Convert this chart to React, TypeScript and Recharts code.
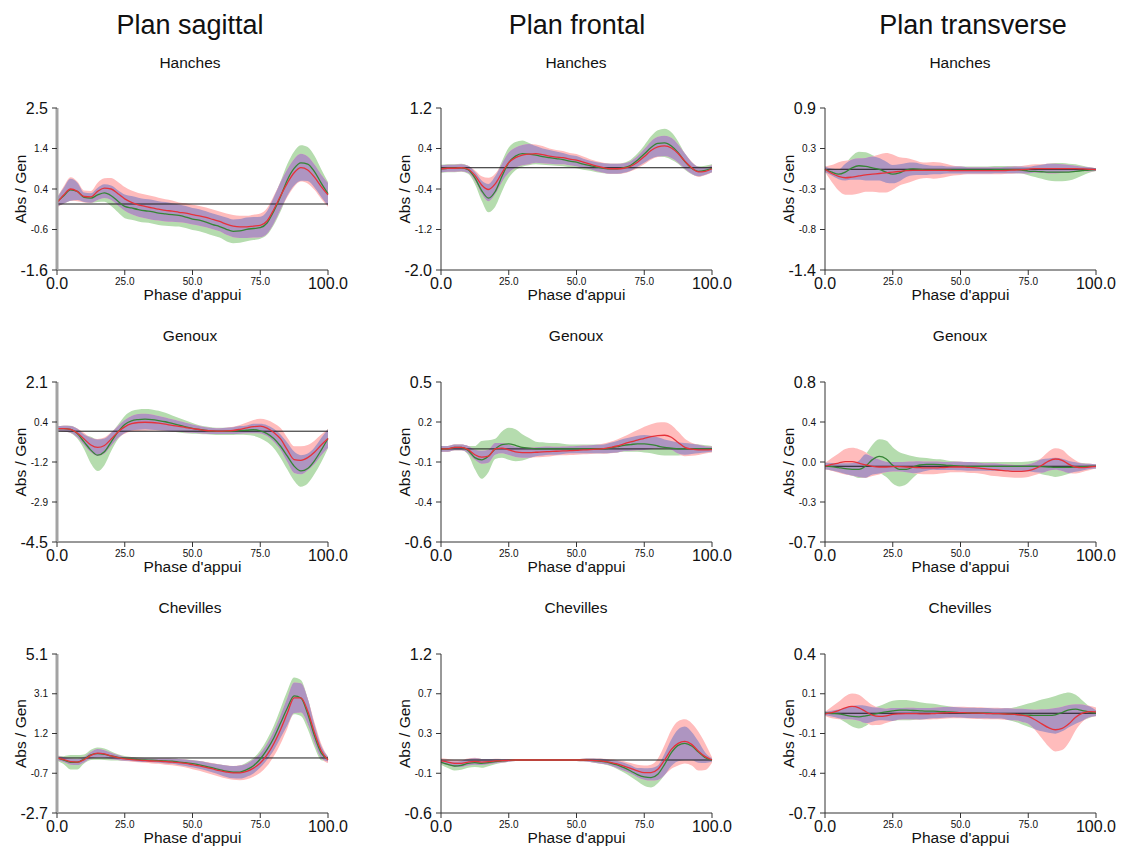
import React from "react";
import { ComposedChart, Area, Line, XAxis, YAxis, ReferenceLine } from "recharts";

// x positions (% of stance phase) shared by every panel
const PHASE = [
  0, 2.5, 5, 7.5, 10, 12.5, 15, 17.5, 20, 22.5,
  25, 27.5, 30, 32.5, 35, 37.5, 40, 42.5, 45, 47.5,
  50, 52.5, 55, 57.5, 60, 62.5, 65, 67.5, 70, 72.5,
  75, 77.5, 80, 82.5, 85, 87.5, 90, 92.5, 95, 97.5,
  100,
];
const X_TICKS = [0, 25, 50, 75, 100];
const X_TICK_LABELS = ["0.0", "25.0", "50.0", "75.0", "100.0"];

const PLANES = ["Plan sagittal", "Plan frontal", "Plan transverse"];
const JOINTS = ["Hanches", "Genoux", "Chevilles"];

// ---- Hanches ----
const hipSagG = [
  0.13, 0.28, 0.43, 0.39, 0.24, 0.22, 0.3, 0.35, 0.28, 0.14,
  0.01, -0.03, -0.07, -0.1, -0.12, -0.16, -0.18, -0.2, -0.22, -0.26,
  -0.31, -0.34, -0.39, -0.45, -0.5, -0.57, -0.62, -0.61, -0.57, -0.55,
  -0.53, -0.41, -0.11, 0.26, 0.68, 0.97, 1.11, 1.08, 0.89, 0.6,
  0.33,
];
const hipSagGSd = [
  0.12, 0.2, 0.28, 0.22, 0.12, 0.12, 0.18, 0.22, 0.26, 0.28,
  0.3, 0.3, 0.3, 0.3, 0.3, 0.3, 0.3, 0.29, 0.28, 0.28,
  0.28, 0.28, 0.28, 0.28, 0.28, 0.3, 0.3, 0.3, 0.3, 0.29,
  0.28, 0.3, 0.35, 0.38, 0.4, 0.43, 0.45, 0.43, 0.4, 0.35,
  0.3,
];
const hipSagR = [
  0.1, 0.3, 0.45, 0.39, 0.26, 0.25, 0.39, 0.47, 0.45, 0.33,
  0.2, 0.11, 0.05, 0.01, -0.03, -0.06, -0.09, -0.11, -0.14, -0.16,
  -0.2, -0.23, -0.27, -0.32, -0.37, -0.44, -0.49, -0.51, -0.51, -0.49,
  -0.47, -0.36, -0.07, 0.28, 0.6, 0.86, 0.99, 0.93, 0.75, 0.51,
  0.3,
];
const hipSagRSd = [
  0.12, 0.22, 0.3, 0.25, 0.15, 0.15, 0.22, 0.25, 0.28, 0.3,
  0.3, 0.3, 0.3, 0.3, 0.3, 0.29, 0.28, 0.27, 0.25, 0.25,
  0.25, 0.25, 0.25, 0.25, 0.25, 0.27, 0.28, 0.28, 0.28, 0.29,
  0.3, 0.32, 0.35, 0.35, 0.35, 0.35, 0.35, 0.34, 0.32, 0.31,
  0.3,
];

const hipFrontG = [
  0, 0.01, 0.01, 0.02, -0.02, -0.18, -0.43, -0.58, -0.45, -0.15,
  0.12, 0.25, 0.3, 0.29, 0.27, 0.24, 0.22, 0.2, 0.18, 0.15,
  0.13, 0.09, 0.06, 0.03, 0.01, 0, 0, 0.02, 0.07, 0.17,
  0.29, 0.42, 0.5, 0.51, 0.45, 0.32, 0.14, 0.01, -0.05, -0.03,
  0.01,
];
const hipFrontGSd = [
  0.08, 0.08, 0.08, 0.08, 0.08, 0.12, 0.2, 0.28, 0.3, 0.3,
  0.3, 0.28, 0.26, 0.22, 0.18, 0.16, 0.15, 0.14, 0.13, 0.12,
  0.12, 0.11, 0.1, 0.1, 0.1, 0.1, 0.1, 0.1, 0.11, 0.13,
  0.17, 0.22, 0.26, 0.28, 0.27, 0.22, 0.16, 0.12, 0.1, 0.09,
  0.08,
];
const hipFrontR = [
  0, 0.01, 0.01, 0.02, -0.01, -0.13, -0.32, -0.41, -0.3, -0.08,
  0.12, 0.22, 0.27, 0.29, 0.3, 0.28, 0.25, 0.23, 0.22, 0.19,
  0.17, 0.13, 0.09, 0.05, 0.02, 0, 0, 0.01, 0.05, 0.13,
  0.24, 0.36, 0.43, 0.45, 0.41, 0.3, 0.15, 0.02, -0.06, -0.05,
  0,
];
const hipFrontRSd = [
  0.07, 0.07, 0.07, 0.07, 0.07, 0.1, 0.17, 0.23, 0.2, 0.18,
  0.2, 0.2, 0.2, 0.2, 0.18, 0.17, 0.15, 0.14, 0.13, 0.12,
  0.12, 0.11, 0.1, 0.1, 0.1, 0.1, 0.1, 0.1, 0.1, 0.12,
  0.15, 0.18, 0.2, 0.2, 0.2, 0.18, 0.15, 0.12, 0.1, 0.08,
  0.07,
];

const hipTransG = [
  0.03, -0.01, -0.04, -0.01, 0.05, 0.08, 0.07, 0.05, 0.03, -0.01,
  -0.04, -0.02, 0.02, 0.035, 0.03, 0.02, 0.02, 0.02, 0.02, 0.02,
  0.02, 0.02, 0.02, 0.02, 0.02, 0.025, 0.025, 0.025, 0.025, 0.02,
  0.005, 0, -0.005, -0.01, -0.01, -0.01, -0.01, 0, 0.01, 0.02,
  0.025,
];
const hipTransGSd = [
  0.04, 0.05, 0.07, 0.12, 0.17, 0.2, 0.2, 0.18, 0.16, 0.15,
  0.13, 0.12, 0.1, 0.09, 0.08, 0.07, 0.06, 0.06, 0.05, 0.05,
  0.05, 0.05, 0.05, 0.05, 0.05, 0.05, 0.05, 0.05, 0.05, 0.05,
  0.06, 0.08, 0.1, 0.12, 0.13, 0.13, 0.12, 0.1, 0.07, 0.04,
  0.02,
];
const hipTransR = [
  0.03, -0.03, -0.07, -0.09, -0.08, -0.065, -0.05, -0.04, -0.03, -0.02,
  -0.01, 0, 0.01, 0.015, 0.015, 0.015, 0.015, 0.015, 0.015, 0.01,
  0.01, 0.01, 0.01, 0.01, 0.01, 0.01, 0.01, 0.015, 0.02, 0.025,
  0.03, 0.04, 0.04, 0.04, 0.04, 0.04, 0.04, 0.04, 0.035, 0.03,
  0.025,
];
const hipTransRSd = [
  0.04, 0.12, 0.2, 0.24, 0.25, 0.25, 0.24, 0.25, 0.27, 0.28,
  0.25, 0.2, 0.18, 0.15, 0.12, 0.11, 0.12, 0.11, 0.09, 0.07,
  0.06, 0.05, 0.05, 0.05, 0.05, 0.05, 0.05, 0.05, 0.05, 0.05,
  0.06, 0.06, 0.06, 0.07, 0.07, 0.06, 0.05, 0.04, 0.03, 0.03,
  0.02,
];

// ---- Genoux ----
const kneeSagG = [
  0.18, 0.18, 0.15, -0.03, -0.37, -0.71, -0.92, -0.78, -0.37, 0.04,
  0.35, 0.5, 0.55, 0.57, 0.55, 0.51, 0.46, 0.39, 0.32, 0.25,
  0.19, 0.14, 0.1, 0.07, 0.06, 0.06, 0.07, 0.1, 0.11, 0.13,
  0.08, -0.03, -0.23, -0.55, -0.96, -1.37, -1.57, -1.47, -1.15, -0.71,
  -0.23,
];
const kneeSagGSd = [
  0.1, 0.12, 0.15, 0.2, 0.3, 0.55, 0.65, 0.55, 0.38, 0.3,
  0.35, 0.4, 0.42, 0.42, 0.42, 0.4, 0.37, 0.33, 0.3, 0.26,
  0.22, 0.18, 0.16, 0.15, 0.15, 0.15, 0.16, 0.18, 0.2, 0.25,
  0.3, 0.35, 0.4, 0.48, 0.55, 0.6, 0.65, 0.62, 0.55, 0.5,
  0.4,
];
const kneeSagR = [
  0.18, 0.18, 0.15, 0, -0.25, -0.5, -0.6, -0.52, -0.25, 0.04,
  0.25, 0.38, 0.43, 0.44, 0.43, 0.4, 0.36, 0.31, 0.27, 0.22,
  0.18, 0.14, 0.1, 0.08, 0.07, 0.08, 0.1, 0.15, 0.21, 0.26,
  0.28, 0.2, 0.02, -0.25, -0.7, -1.1, -1.13, -1.02, -0.8, -0.5,
  -0.23,
];
const kneeSagRSd = [
  0.1, 0.12, 0.14, 0.18, 0.25, 0.3, 0.35, 0.33, 0.28, 0.25,
  0.28, 0.32, 0.35, 0.35, 0.33, 0.3, 0.28, 0.25, 0.22, 0.2,
  0.17, 0.15, 0.13, 0.12, 0.12, 0.13, 0.15, 0.18, 0.22, 0.27,
  0.3, 0.33, 0.38, 0.45, 0.5, 0.55, 0.58, 0.52, 0.48, 0.43,
  0.38,
];

const kneeFrontG = [
  0.04, 0.04, 0.05, 0.05, 0.03, -0.02, -0.035, -0.01, 0.04, 0.07,
  0.075, 0.065, 0.05, 0.045, 0.04, 0.04, 0.04, 0.04, 0.04, 0.04,
  0.04, 0.04, 0.04, 0.04, 0.04, 0.047, 0.055, 0.065, 0.07, 0.075,
  0.075, 0.07, 0.06, 0.05, 0.045, 0.04, 0.04, 0.04, 0.04, 0.04,
  0.04,
];
const kneeFrontGSd = [
  0.02, 0.02, 0.02, 0.02, 0.03, 0.08, 0.13, 0.11, 0.07, 0.09,
  0.11, 0.11, 0.09, 0.07, 0.05, 0.045, 0.04, 0.04, 0.035, 0.03,
  0.03, 0.03, 0.03, 0.03, 0.03, 0.035, 0.04, 0.045, 0.05, 0.055,
  0.06, 0.06, 0.06, 0.055, 0.05, 0.045, 0.04, 0.035, 0.03, 0.025,
  0.02,
];
const kneeFrontR = [
  0.04, 0.04, 0.05, 0.05, 0.035, 0, -0.017, -0.01, 0.04, 0.045,
  0.033, 0.02, 0.015, 0.015, 0.017, 0.02, 0.022, 0.024, 0.026, 0.028,
  0.03, 0.033, 0.035, 0.038, 0.042, 0.05, 0.06, 0.075, 0.088, 0.1,
  0.113, 0.125, 0.132, 0.134, 0.12, 0.084, 0.05, 0.038, 0.033, 0.033,
  0.035,
];
const kneeFrontRSd = [
  0.02, 0.02, 0.02, 0.02, 0.025, 0.035, 0.045, 0.045, 0.04, 0.035,
  0.035, 0.035, 0.035, 0.035, 0.035, 0.035, 0.035, 0.03, 0.03, 0.03,
  0.03, 0.03, 0.03, 0.03, 0.035, 0.04, 0.045, 0.05, 0.06, 0.07,
  0.08, 0.085, 0.09, 0.09, 0.085, 0.075, 0.06, 0.045, 0.035, 0.025,
  0.02,
];

const kneeTransG = [
  0.012, 0.006, -0.003, -0.012, -0.019, -0.019, 0.012, 0.072, 0.103, 0.081,
  0.019, -0.019, -0.019, 0.003, 0.022, 0.028, 0.028, 0.025, 0.019, 0.016,
  0.012, 0.009, 0.009, 0.009, 0.009, 0.009, 0.009, 0.009, 0.009, 0.009,
  0.009, 0.009, 0.006, 0.003, 0, 0, 0, 0.003, 0.006, 0.009,
  0.009,
];
const kneeTransGSd = [
  0.03, 0.035, 0.04, 0.05, 0.06, 0.08, 0.11, 0.14, 0.16, 0.17,
  0.17, 0.16, 0.14, 0.1, 0.07, 0.06, 0.05, 0.05, 0.045, 0.04,
  0.04, 0.04, 0.04, 0.04, 0.04, 0.04, 0.04, 0.04, 0.04, 0.04,
  0.045, 0.055, 0.07, 0.08, 0.09, 0.08, 0.06, 0.045, 0.035, 0.025,
  0.02,
];
const kneeTransR = [
  0.012, 0.028, 0.04, 0.053, 0.053, 0.04, 0.022, 0.009, 0.003, 0.003,
  0.006, 0.006, 0.003, 0, -0.003, -0.006, -0.006, -0.003, 0, 0.003,
  0.003, 0, -0.003, -0.009, -0.016, -0.022, -0.028, -0.034, -0.038, -0.038,
  -0.031, -0.012, 0.019, 0.059, 0.078, 0.066, 0.028, 0.003, -0.003, 0.003,
  0.009,
];
const kneeTransRSd = [
  0.03, 0.06, 0.09, 0.12, 0.13, 0.13, 0.12, 0.09, 0.07, 0.05,
  0.045, 0.045, 0.05, 0.055, 0.06, 0.06, 0.06, 0.055, 0.05, 0.05,
  0.05, 0.05, 0.05, 0.05, 0.055, 0.06, 0.06, 0.06, 0.06, 0.06,
  0.06, 0.06, 0.07, 0.09, 0.1, 0.1, 0.08, 0.06, 0.04, 0.03,
  0.02,
];

// ---- Chevilles ----
const ankleSagG = [
  0, -0.11, -0.21, -0.21, -0.05, 0.15, 0.21, 0.18, 0.1, 0.03,
  -0.02, -0.05, -0.08, -0.1, -0.11, -0.13, -0.15, -0.16, -0.2, -0.23,
  -0.28, -0.34, -0.41, -0.49, -0.57, -0.65, -0.7, -0.69, -0.57, -0.38,
  -0.05, 0.41, 0.98, 1.71, 2.45, 3.05, 2.94, 2.17, 1.09, 0.24,
  -0.05,
];
const ankleSagGSd = [
  0.12, 0.2, 0.35, 0.35, 0.22, 0.25, 0.3, 0.28, 0.22, 0.15,
  0.12, 0.1, 0.1, 0.1, 0.1, 0.11, 0.12, 0.13, 0.15, 0.16,
  0.18, 0.19, 0.2, 0.22, 0.25, 0.28, 0.3, 0.32, 0.35, 0.38,
  0.42, 0.5, 0.6, 0.72, 0.85, 0.9, 0.88, 0.75, 0.55, 0.35,
  0.12,
];
const ankleSagR = [
  0, -0.08, -0.18, -0.2, -0.08, 0.13, 0.24, 0.2, 0.1, 0.02,
  -0.05, -0.08, -0.11, -0.13, -0.15, -0.16, -0.18, -0.2, -0.23, -0.27,
  -0.33, -0.39, -0.46, -0.54, -0.62, -0.69, -0.73, -0.73, -0.66, -0.5,
  -0.25, 0.15, 0.7, 1.4, 2.2, 2.95, 2.95, 2.3, 1.25, 0.35,
  -0.1,
];
const ankleSagRSd = [
  0.1, 0.12, 0.15, 0.15, 0.14, 0.16, 0.2, 0.18, 0.15, 0.12,
  0.1, 0.1, 0.1, 0.11, 0.12, 0.13, 0.15, 0.16, 0.18, 0.2,
  0.22, 0.24, 0.26, 0.28, 0.3, 0.32, 0.34, 0.36, 0.38, 0.42,
  0.48, 0.55, 0.62, 0.7, 0.75, 0.75, 0.72, 0.62, 0.5, 0.35,
  0.15,
];

const ankleFrontG = [
  -0.023, -0.05, -0.068, -0.06, -0.038, -0.03, -0.038, -0.03, -0.019, -0.011,
  -0.004, 0, 0, 0, 0, 0, 0, 0, 0, 0,
  0, 0, -0.004, -0.011, -0.019, -0.034, -0.056, -0.087, -0.124, -0.166,
  -0.192, -0.2, -0.162, -0.049, 0.083, 0.166, 0.188, 0.158, 0.09, 0.026,
  0,
];
const ankleFrontGSd = [
  0.03, 0.04, 0.05, 0.05, 0.05, 0.05, 0.05, 0.04, 0.03, 0.02,
  0.015, 0.01, 0.01, 0.01, 0.01, 0.01, 0.01, 0.01, 0.01, 0.01,
  0.01, 0.015, 0.02, 0.025, 0.03, 0.035, 0.045, 0.055, 0.065, 0.075,
  0.1, 0.11, 0.1, 0.12, 0.15, 0.18, 0.19, 0.16, 0.12, 0.06,
  0.02,
];
const ankleFrontR = [
  -0.011, -0.023, -0.038, -0.038, -0.023, -0.015, -0.023, -0.019, -0.011, -0.008,
  -0.004, 0, 0, 0, 0, 0, 0, 0, 0, 0,
  0, 0, -0.004, -0.008, -0.015, -0.026, -0.045, -0.068, -0.094, -0.124,
  -0.143, -0.143, -0.105, 0, 0.12, 0.188, 0.21, 0.177, 0.1, 0.038,
  0,
];
const ankleFrontRSd = [
  0.03, 0.035, 0.04, 0.04, 0.04, 0.04, 0.035, 0.03, 0.025, 0.02,
  0.015, 0.01, 0.01, 0.01, 0.01, 0.01, 0.01, 0.01, 0.01, 0.01,
  0.01, 0.015, 0.02, 0.025, 0.03, 0.035, 0.045, 0.055, 0.06, 0.07,
  0.08, 0.09, 0.12, 0.17, 0.22, 0.25, 0.25, 0.24, 0.22, 0.15,
  0.03,
];

const ankleTransG = [
  -0.009, -0.012, -0.014, -0.023, -0.032, -0.035, -0.028, -0.018, -0.009, 0,
  0.007, 0.012, 0.012, 0.009, 0.007, 0.005, 0.005, 0.002, 0, -0.002,
  -0.005, -0.007, -0.007, -0.009, -0.009, -0.012, -0.012, -0.016, -0.018, -0.021,
  -0.023, -0.025, -0.025, -0.025, -0.021, -0.005, 0.014, 0.018, 0.009, -0.002,
  -0.009,
];
const ankleTransGSd = [
  0.015, 0.02, 0.03, 0.05, 0.07, 0.08, 0.07, 0.05, 0.05, 0.06,
  0.07, 0.07, 0.07, 0.065, 0.06, 0.055, 0.05, 0.045, 0.04, 0.035,
  0.035, 0.035, 0.035, 0.035, 0.035, 0.035, 0.035, 0.04, 0.05, 0.065,
  0.08, 0.095, 0.11, 0.12, 0.13, 0.13, 0.12, 0.1, 0.07, 0.04,
  0.02,
];
const ankleTransR = [
  -0.014, -0.005, 0.009, 0.028, 0.037, 0.028, 0.002, -0.023, -0.032, -0.028,
  -0.018, -0.014, -0.012, -0.012, -0.014, -0.014, -0.012, -0.009, -0.007, -0.005,
  -0.005, -0.007, -0.009, -0.009, -0.012, -0.012, -0.014, -0.016, -0.018, -0.023,
  -0.032, -0.055, -0.083, -0.11, -0.124, -0.115, -0.083, -0.037, -0.009, 0.002,
  0,
];
const ankleTransRSd = [
  0.015, 0.04, 0.06, 0.08, 0.09, 0.09, 0.08, 0.07, 0.06, 0.05,
  0.045, 0.04, 0.04, 0.04, 0.04, 0.04, 0.04, 0.04, 0.04, 0.04,
  0.04, 0.04, 0.04, 0.04, 0.04, 0.04, 0.04, 0.04, 0.04, 0.045,
  0.05, 0.07, 0.1, 0.13, 0.15, 0.15, 0.13, 0.09, 0.06, 0.04,
  0.03,
];

// y tick labels, bottom to top, one list per panel (row by row)
const Y_TICK_LABELS = [
  ["-1.6", "-0.6", "0.4", "1.4", "2.5"],
  ["-2.0", "-1.2", "-0.4", "0.4", "1.2"],
  ["-1.4", "-0.8", "-0.3", "0.3", "0.9"],
  ["-4.5", "-2.9", "-1.2", "0.4", "2.1"],
  ["-0.6", "-0.4", "-0.1", "0.2", "0.5"],
  ["-0.7", "-0.3", "0.0", "0.4", "0.8"],
  ["-2.7", "-0.7", "1.2", "3.1", "5.1"],
  ["-0.6", "-0.1", "0.3", "0.7", "1.2"],
  ["-0.7", "-0.4", "-0.1", "0.1", "0.4"],
];
// level of the black horizontal line in each panel
const REF_LEVELS = [0.07, 0.02, 0.03, 0.07, 0.04, 0.01, 0, 0, -0.01];

const SERIES = [
  [hipSagG, hipSagGSd, hipSagR, hipSagRSd],
  [hipFrontG, hipFrontGSd, hipFrontR, hipFrontRSd],
  [hipTransG, hipTransGSd, hipTransR, hipTransRSd],
  [kneeSagG, kneeSagGSd, kneeSagR, kneeSagRSd],
  [kneeFrontG, kneeFrontGSd, kneeFrontR, kneeFrontRSd],
  [kneeTransG, kneeTransGSd, kneeTransR, kneeTransRSd],
  [ankleSagG, ankleSagGSd, ankleSagR, ankleSagRSd],
  [ankleFrontG, ankleFrontGSd, ankleFrontR, ankleFrontRSd],
  [ankleTransG, ankleTransGSd, ankleTransR, ankleTransRSd],
];

const FONT = '"Liberation Sans", Arial, sans-serif';
const GREEN_BAND = "#b5dcae";
const RED_BAND = "#ffbcbc";
const BOTH_BAND = "#ae95c1";
const GREEN_LINE = "#358535";
const RED_LINE = "#e5323a";

const COL_LEFT = [57, 441, 825];
const ROW_TOP = [108, 382, 654];
const ROW_HEIGHT = [162, 160, 159];
const COL_CENTER = [190, 576, 960];
const TITLE_CENTER = [190, 577, 973];
const SUBTITLE_Y = [63, 336, 608];
const PLOT_W = 271;
const AXIS_W = 60;

interface Row {
  x: number;
  green: number;
  red: number;
  greenBand: [number, number];
  redBand: [number, number];
  both: [number, number];
}

/** Mean lines plus the two ± bands and the band where they overlap. */
function buildRows(g: number[], gSd: number[], r: number[], rSd: number[]): Row[] {
  return PHASE.map((x, i) => {
    const gLo = g[i] - gSd[i];
    const gHi = g[i] + gSd[i];
    const rLo = r[i] - rSd[i];
    const rHi = r[i] + rSd[i];
    const lo = Math.max(gLo, rLo);
    const hi = Math.min(gHi, rHi);
    const mid = (lo + hi) / 2;
    return {
      x,
      green: g[i],
      red: r[i],
      greenBand: [gLo, gHi],
      redBand: [rLo, rHi],
      both: lo < hi ? [lo, hi] : [mid, mid],
    };
  });
}

function Panel({ idx }: { idx: number }) {
  const row = Math.floor(idx / 3);
  const col = idx % 3;
  const [g, gSd, r, rSd] = SERIES[idx];
  const data = buildRows(g, gSd, r, rSd);
  const labels = Y_TICK_LABELS[idx];
  const lo = Number(labels[0]);
  const hi = Number(labels[labels.length - 1]);
  const n = labels.length;
  const yTicks = labels.map((_, i) => (i === n - 1 ? hi : lo + ((hi - lo) * i) / (n - 1)));
  const plotH = ROW_HEIGHT[row];
  const firstCol = col === 0;

  const renderYTick = (p: any) => {
    const big = p.index === 0 || p.index === n - 1;
    return (
      <text x={p.x} y={p.y} dy="0.36em" textAnchor="end" fontSize={big ? 16 : 10} fill="#111" fontFamily={FONT}>
        {labels[p.index]}
      </text>
    );
  };
  const renderXTick = (p: any) => {
    const big = p.index === 0 || p.index === X_TICKS.length - 1;
    return (
      <text x={p.x} y={p.y + (big ? 8 : 6.5)} dy="0.36em" textAnchor="middle" fontSize={big ? 16 : 10} fill="#111" fontFamily={FONT}>
        {X_TICK_LABELS[p.index]}
      </text>
    );
  };
  const renderYLabel = (p: any) => {
    const vb = p.viewBox ?? { x: 0, y: 10, width: AXIS_W, height: plotH };
    const cx = vb.x + 23.5;
    const cy = vb.y + vb.height / 2;
    return (
      <text x={cx} y={cy} dy="0.36em" transform={`rotate(-90 ${cx} ${cy})`} textAnchor="middle" fontSize={15.5} fill="#111" fontFamily={FONT}>
        Abs / Gen
      </text>
    );
  };

  return (
    <div style={{ position: "absolute", left: COL_LEFT[col] - AXIS_W, top: ROW_TOP[row] - 10 }}>
      <ComposedChart
        width={AXIS_W + PLOT_W + 20}
        height={10 + plotH + 45}
        data={data}
        margin={{ top: 10, right: 20, bottom: 0, left: 0 }}
      >
        <XAxis
          dataKey="x"
          type="number"
          domain={[0, 100]}
          ticks={X_TICKS}
          interval={0}
          tickSize={5}
          tickMargin={0}
          height={45}
          axisLine={{ stroke: "#333", strokeWidth: 1 }}
          tickLine={{ stroke: "#333" }}
          tick={renderXTick}
          label={{ value: "Phase d'appui", position: "insideBottom", offset: 15, fill: "#111", fontSize: 15.5, fontFamily: FONT }}
        />
        <YAxis
          type="number"
          domain={[lo, hi]}
          ticks={yTicks}
          interval={0}
          allowDataOverflow
          width={AXIS_W}
          tickSize={5}
          tickMargin={4}
          axisLine={firstCol ? { stroke: "#a3a3a3", strokeWidth: 3 } : { stroke: "#333", strokeWidth: 1 }}
          tickLine={{ stroke: "#333" }}
          tick={renderYTick}
          label={renderYLabel}
        />
        <Area type="monotone" dataKey="greenBand" fill={GREEN_BAND} fillOpacity={1} stroke="none" isAnimationActive={false} />
        <Area type="monotone" dataKey="redBand" fill={RED_BAND} fillOpacity={1} stroke="none" isAnimationActive={false} />
        <Area type="monotone" dataKey="both" fill={BOTH_BAND} fillOpacity={1} stroke="none" isAnimationActive={false} />
        <ReferenceLine y={REF_LEVELS[idx]} stroke="#1a1a1a" strokeWidth={1} />
        <Line type="monotone" dataKey="green" stroke={GREEN_LINE} strokeWidth={1.3} dot={false} activeDot={false} isAnimationActive={false} />
        <Line type="monotone" dataKey="red" stroke={RED_LINE} strokeWidth={1.3} dot={false} activeDot={false} isAnimationActive={false} />
      </ComposedChart>
    </div>
  );
}

export default function App() {
  return (
    <div style={{ position: "absolute", left: 0, top: 0, width: 1121, height: 848, background: "#fff", color: "#111" }}>
      {PLANES.map((p, i) => (
        <div
          key={p}
          style={{
            position: "absolute",
            left: TITLE_CENTER[i],
            top: 25,
            transform: "translate(-50%, -50%)",
            fontFamily: FONT,
            fontSize: 27,
            lineHeight: 1,
            whiteSpace: "nowrap",
          }}
        >
          {p}
        </div>
      ))}
      {JOINTS.map((j, row) =>
        COL_CENTER.map((cx, col) => (
          <div
            key={`${j}-${col}`}
            style={{
              position: "absolute",
              left: cx,
              top: SUBTITLE_Y[row],
              transform: "translate(-50%, -50%)",
              fontFamily: FONT,
              fontSize: 15.5,
              lineHeight: 1,
              whiteSpace: "nowrap",
            }}
          >
            {j}
          </div>
        )),
      )}
      {SERIES.map((_, idx) => (
        <Panel key={idx} idx={idx} />
      ))}
    </div>
  );
}
